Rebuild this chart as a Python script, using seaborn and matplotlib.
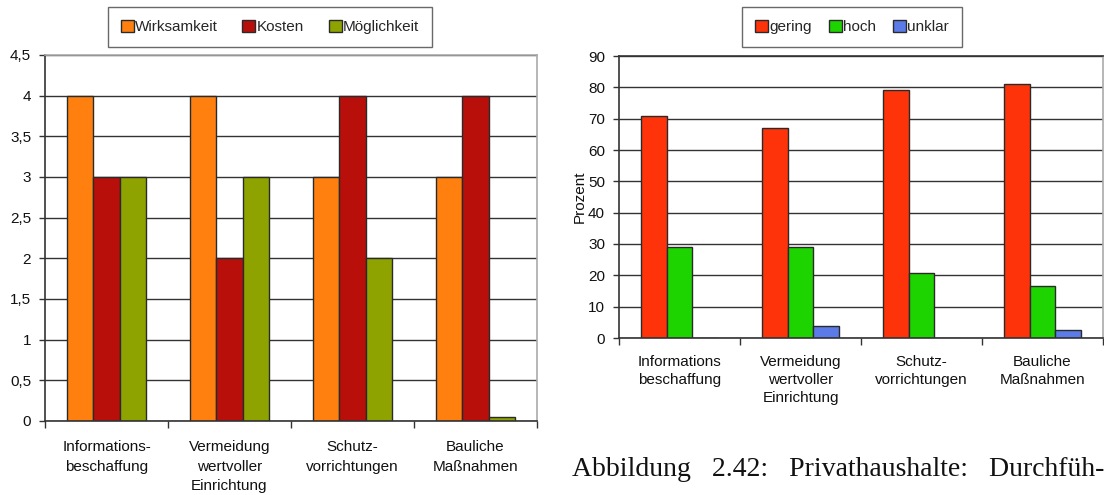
import matplotlib
matplotlib.use("Agg")
import matplotlib.pyplot as plt
import seaborn as sns
import pandas as pd
from matplotlib.ticker import FuncFormatter, FixedLocator

sns.set_theme(style="white")
plt.rcParams['font.family'] = ['Liberation Sans', 'DejaVu Sans']

# ---- data ----
left_categories = ["Informations-\nbeschaffung", "Vermeidung\nwertvoller\nEinrichtung",
                   "Schutz-\nvorrichtungen", "Bauliche\nMaßnahmen"]
wirksamkeit = [4, 4, 3, 3]
kosten = [3, 2, 4, 4]
moeglichkeit = [3, 3, 2, 0.05]
left_series = ["Wirksamkeit", "Kosten", "Möglichkeit"]

right_categories = ["Informations\nbeschaffung", "Vermeidung\nwertvoller\nEinrichtung",
                    "Schutz-\nvorrichtungen", "Bauliche\nMaßnahmen"]
gering = [71, 67, 79.3, 81.2]
hoch = [29, 29, 20.8, 16.7]
unklar = [0, 3.8, 0, 2.4]
right_series = ["gering", "hoch", "unklar"]
right_ylabel = "Prozent"

caption = "Abbildung   2.42:   Privathaushalte:   Durchfüh-"

left_colors = ["#FF800E", "#B90F0B", "#8FA300"]
right_colors = ["#FF3309", "#1DD400", "#5B7BE8"]

df_left = pd.DataFrame({
    "cat": left_categories * 3,
    "val": wirksamkeit + kosten + moeglichkeit,
    "series": [s for s in left_series for _ in left_categories],
})
df_right = pd.DataFrame({
    "cat": right_categories * 3,
    "val": gering + hoch + unklar,
    "series": [s for s in right_series for _ in right_categories],
})

fig = plt.figure(figsize=(11.04, 4.95), dpi=100)
W, H = 1104, 495

def ax_rect(x0, x1, ytop, ybot):
    return [x0 / W, 1 - ybot / H, (x1 - x0) / W, (ybot - ytop) / H]

ax1 = fig.add_axes(ax_rect(45, 537, 55, 421))
ax2 = fig.add_axes(ax_rect(619, 1103, 56, 338))

FS = 11

def style_axis(ax, ymax, ystep, comma, cats, xpad, lsp):
    ax.set_ylim(0, ymax)
    ax.set_xlim(-0.5, 3.5)
    ticks = [i * ystep for i in range(int(round(ymax / ystep)) + 1)]
    ax.set_yticks(ticks)
    if comma:
        ax.yaxis.set_major_formatter(FuncFormatter(
            lambda v, p: (f"{v:g}").replace(".", ",")))
    ax.set_xticks(range(len(cats)))
    ax.set_xticklabels(cats, linespacing=lsp)
    ax.grid(axis="y", color="#333333", linewidth=1.0)
    ax.set_axisbelow(True)
    ax.set_xlabel("")
    ax.set_ylabel("")
    ax.tick_params(axis="y", left=True, length=4, width=1, color="#333333",
                   labelsize=FS, pad=6, labelcolor="#111111")
    ax.tick_params(axis="x", which="major", length=0, labelsize=FS, pad=xpad,
                   labelcolor="#111111")
    ax.xaxis.set_minor_locator(FixedLocator([-0.5, 0.5, 1.5, 2.5, 3.5]))
    ax.tick_params(axis="x", which="minor", bottom=True, length=5, width=1,
                   color="#333333")
    for s in ["left", "bottom"]:
        ax.spines[s].set_color("#333333")
        ax.spines[s].set_linewidth(1.2)
    for s in ["top", "right"]:
        ax.spines[s].set_color("#AAAAAA")
        ax.spines[s].set_linewidth(1.2)

sns.barplot(data=df_left, x="cat", y="val", hue="series", palette=left_colors,
            saturation=1, edgecolor="#2a2a2a", linewidth=1.0, width=0.64, ax=ax1,
            errorbar=None, legend=True)
sns.barplot(data=df_right, x="cat", y="val", hue="series", palette=right_colors,
            saturation=1, edgecolor="#2a2a2a", linewidth=1.0, width=0.64, ax=ax2,
            errorbar=None, legend=True)

style_axis(ax1, 4.5, 0.5, True, left_categories, 14, 1.5)
style_axis(ax2, 90, 10, False, right_categories, 12, 1.4)
ax2.spines["top"].set_color("#333333")
ax2.set_ylabel(right_ylabel, fontsize=FS, labelpad=1, color="#111111")

for ax, cx, cs in [(ax1, 270, 1.6), (ax2, 852, 1.1)]:
    h, l = ax.get_legend_handles_labels()
    ax.get_legend().remove()
    leg = fig.legend(h, l, loc="center", bbox_to_anchor=(cx / W, 1 - 27 / H),
                     ncol=3, frameon=True, fancybox=False, fontsize=FS,
                     handlelength=0.85, handleheight=0.85, handletextpad=0.1,
                     columnspacing=cs, borderpad=0.85, edgecolor="#444444",
                     borderaxespad=0)
    leg.get_frame().set_linewidth(1.0)

fig.text(572 / W, 1 - 469 / H, caption, fontsize=20,
         family=["Liberation Serif", "DejaVu Serif"], va="center", ha="left",
         color="#111111")

fig.savefig("out.png", dpi=100)
